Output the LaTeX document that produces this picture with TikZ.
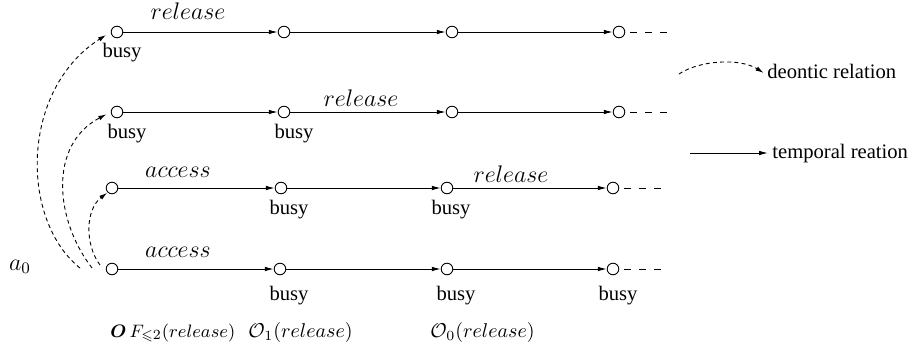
\documentclass[tikz,border=0pt]{standalone}
\usepackage{fontspec}
\setmainfont{Liberation Serif}
\usepackage{amsmath,amssymb}
\usetikzlibrary{arrows.meta}
\begin{document}
\begin{tikzpicture}[x=0.5pt,y=-0.5pt,
  st/.style={circle,draw,fill=white,inner sep=0pt,minimum size=5.8pt,line width=0.45pt},
  tr/.style={line width=0.5pt,-{Latex[length=4.5pt,width=2.3pt]}},
  dr/.style={line width=0.45pt,dash pattern=on 2pt off 1.6pt,-{Latex[length=4pt,width=2.3pt]}},
  cont/.style={line width=0.45pt,dash pattern=on 3.5pt off 4pt,shorten <=2.5pt},
  lb/.style={anchor=base,font=\fontsize{10.3}{12}\selectfont,inner sep=0pt},
  lbw/.style={anchor=base west,font=\fontsize{10.3}{12}\selectfont,inner sep=0pt},
  fw/.style={anchor=base west,font=\fontsize{9.8}{12}\selectfont,inner sep=0pt},
  ml/.style={anchor=base,font=\large,inner sep=0pt}]
\useasboundingbox (0,0) rectangle (915,354);
% states
\node[st] (a1) at (117,32) {};
\node[st] (a2) at (284,32) {};
\node[st] (a3) at (452,32) {};
\node[st] (a4) at (619,32) {};
\node[st] (b1) at (117,112) {};
\node[st] (b2) at (284,112) {};
\node[st] (b3) at (452,112) {};
\node[st] (b4) at (619,112) {};
\node[st] (c1) at (112,188) {};
\node[st] (c2) at (281,188) {};
\node[st] (c3) at (447,188) {};
\node[st] (c4) at (613,188) {};
\node[st] (d1) at (112,269) {};
\node[st] (d2) at (280,269) {};
\node[st] (d3) at (447,269) {};
\node[st] (d4) at (613,269) {};
% continuation ends
\coordinate (ae) at (668,32);
\coordinate (be) at (668,112);
\coordinate (ce) at (663,188);
\coordinate (de) at (663,269);
% temporal edges
\foreach \r in {a,b,c,d}{
  \draw[tr] (\r1) -- (\r2);
  \draw[tr] (\r2) -- (\r3);
  \draw[tr] (\r3) -- (\r4);
  \draw[cont] (\r4.east) -- (\r e);
}
% busy labels
\node[lb] (ba1) at (122,57) {busy};
\node[lb] (bb1) at (127,138) {busy};
\node[lb] (bb2) at (294,138) {busy};
\node[lb] (bc2) at (289,214) {busy};
\node[lb] (bc3) at (451,214) {busy};
\node[lb] (bd2) at (289,300) {busy};
\node[lb] (bd3) at (456,300) {busy};
\node[lb] (bd4) at (618,300) {busy};
% action labels
\node[ml] (la) at (188,19) {$release$};
\node[ml] (lb2) at (361,106) {$release$};
\node[ml] (lc1) at (178,177) {$access$};
\node[ml] (lc3) at (511,182) {$release$};
\node[ml] (ld1) at (178,257) {$access$};
% a0
\node[ml] (a0) at (20,270) {$a_0$};
% bottom formulas
\node[fw] (f1) at (110,337) {\fontsize{8.9}{10}\selectfont$\boldsymbol{O}$\fontsize{9.3}{12}\selectfont$\,F_{\leqslant 2}(release)$};
\node[fw] (f2) at (248,337) {$\mathcal{O}_1(release)$};
\node[fw] (f3) at (430,337) {$\mathcal{O}_0(release)$};
% deontic arcs
\coordinate (s1) at (80,268);
\coordinate (s2) at (92,268);
\coordinate (s3) at (100,265);
\draw[dr,shorten >=2.8pt] (s1) .. controls (20,220) and (20,90) .. (a1.west);
\draw[dr,shorten >=2.5pt] (s2) .. controls (55,220) and (48,145) .. (b1.west);
\draw[dr,shorten >=0.3pt] (s3) .. controls (85,245) and (85,210) .. (c1.south west);
% legend
\coordinate (lg1) at (679,74);
\node[lbw] (dl) at (767,78) {deontic relation};
\draw[dr,shorten >=2pt] (lg1) .. controls (700,60) and (740,58) .. (dl.west |- 0,75);
\coordinate (lg2) at (690,153);
\node[lbw] (tl) at (772,158) {temporal reation};
\draw[tr,shorten >=2pt] (lg2) -- (tl.west |- 0,153);
\end{tikzpicture}
\end{document}
